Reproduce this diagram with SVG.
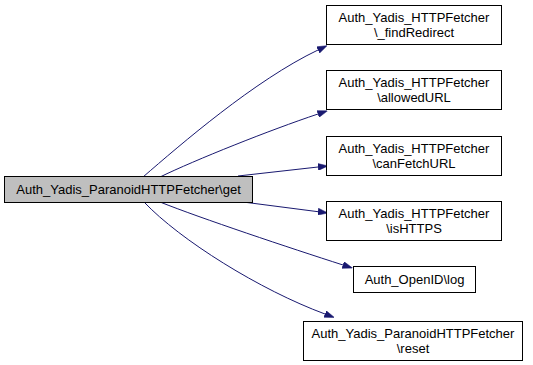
<svg xmlns="http://www.w3.org/2000/svg" width="533" height="365" viewBox="0 0 533 365">
<defs>
<marker id="arr" viewBox="0 0 10 7" refX="0" refY="3.5" markerWidth="10" markerHeight="7" markerUnits="userSpaceOnUse" orient="auto">
<path d="M0,0 L10,3.5 L0,7 z" fill="#191970" stroke="#191970" stroke-width="0.5"/>
</marker>
<style>
.n rect{fill:#fff;stroke:#000;stroke-width:1}
.n.main rect{fill:#bfbfbf}
.n text{font-family:"Liberation Sans",Arial,sans-serif;font-size:13px;text-anchor:middle;fill:#000}
.e path{fill:none;stroke:#191970;stroke-width:1;marker-end:url(#arr)}
</style>
</defs>
<rect width="533" height="365" fill="#fff"/>
<g id="edges" class="e">
<path d="M143,177 C180,145 255,80 318,50"/>
<path d="M160,177 C195,160 270,130 318,114"/>
<path d="M238,176 L318,167"/>
<path d="M243,202 L318,211.7"/>
<path d="M160,202 C200,218 290,248 343,265"/>
<path d="M144,202 C180,240 260,290 325,314"/>
</g>
<g id="n0" class="n main"><rect x="4.5" y="176.5" width="248" height="26"/><text x="128.5" y="194">Auth_Yadis_ParanoidHTTPFetcher\get</text></g>
<g id="n1" class="n"><rect x="326.5" y="5.5" width="175" height="39"/><text x="414" y="22">Auth_Yadis_HTTPFetcher</text><text x="414" y="36.5">\_findRedirect</text></g>
<g id="n2" class="n"><rect x="326.5" y="70.5" width="175" height="39"/><text x="414" y="87">Auth_Yadis_HTTPFetcher</text><text x="414" y="101.5">\allowedURL</text></g>
<g id="n3" class="n"><rect x="326.5" y="136.5" width="175" height="39"/><text x="414" y="153">Auth_Yadis_HTTPFetcher</text><text x="414" y="167.5">\canFetchURL</text></g>
<g id="n4" class="n"><rect x="326.5" y="201.5" width="175" height="39"/><text x="414" y="218">Auth_Yadis_HTTPFetcher</text><text x="414" y="232.5">\isHTTPS</text></g>
<g id="n5" class="n"><rect x="353.5" y="266.5" width="122" height="26"/><text x="414.5" y="284">Auth_OpenID\log</text></g>
<g id="n6" class="n"><rect x="303.5" y="321.5" width="219" height="39"/><text x="413" y="338">Auth_Yadis_ParanoidHTTPFetcher</text><text x="413" y="352.5">\reset</text></g>
</svg>
